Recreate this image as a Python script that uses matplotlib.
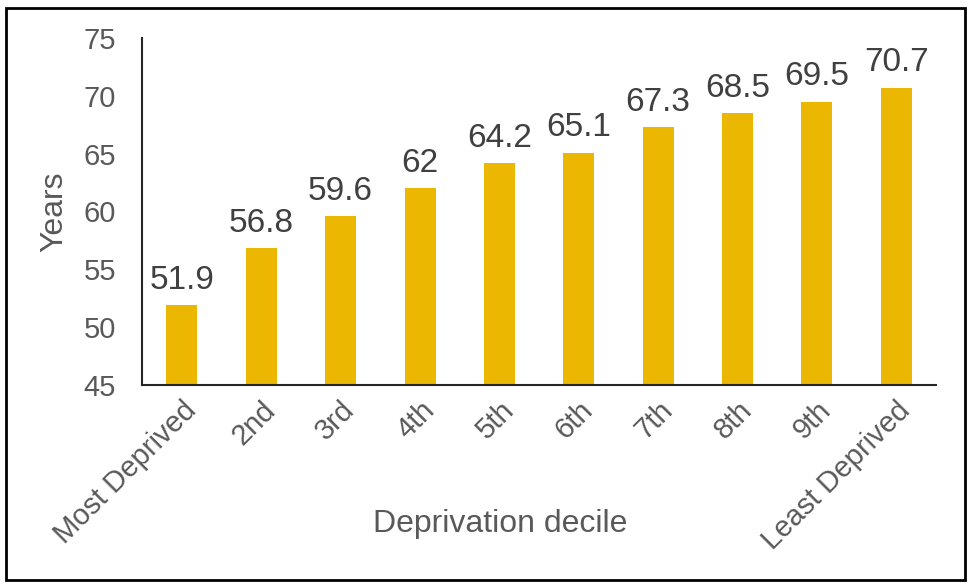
import matplotlib.pyplot as plt
from matplotlib.patches import Rectangle

plt.rcParams['font.family'] = ['Liberation Sans', 'DejaVu Sans']

# data
deciles = ["Most Deprived", "2nd", "3rd", "4th", "5th", "6th", "7th", "8th", "9th", "Least Deprived"]
years = [51.9, 56.8, 59.6, 62, 64.2, 65.1, 67.3, 68.5, 69.5, 70.7]
labels = ["51.9", "56.8", "59.6", "62", "64.2", "65.1", "67.3", "68.5", "69.5", "70.7"]

fig = plt.figure(figsize=(9.74, 5.85), dpi=100)
ax = fig.add_axes([0.146, 0.342, 0.815, 0.593])

x = list(range(len(deciles)))
ax.bar(x, [y - 45 for y in years], bottom=45, width=0.39, color="#EBB700")

for xi, y, lab in zip(x, years, labels):
    ax.text(xi, y + 0.8, lab, ha="center", va="bottom", fontsize=24, color="#404040")

ax.set_ylim(45, 75)
ax.set_xlim(-0.5, len(deciles) - 0.5)
ax.set_yticks(range(45, 80, 5))
ax.tick_params(axis="y", length=0, labelsize=21, labelcolor="#595959", pad=19)
ax.tick_params(axis="x", length=0, labelsize=21, labelcolor="#595959", pad=8)
ax.set_xticks(x)
ax.set_xticklabels(deciles, rotation=45, ha="right", rotation_mode="anchor")

for s in ["top", "right"]:
    ax.spines[s].set_visible(False)
for s in ["left", "bottom"]:
    ax.spines[s].set_color("#262626")
    ax.spines[s].set_linewidth(1.5)

ax.set_ylabel("Years", fontsize=23, color="#595959", labelpad=10)
fig.text(0.514, 0.104, "Deprivation decile", ha="center", va="center", fontsize=23, color="#595959")

# outer frame
fig.patches.append(Rectangle((0.006, 0.008), 0.985, 0.978, transform=fig.transFigure,
                             fill=False, edgecolor="black", linewidth=2))

fig.savefig("out.png", dpi=100)
